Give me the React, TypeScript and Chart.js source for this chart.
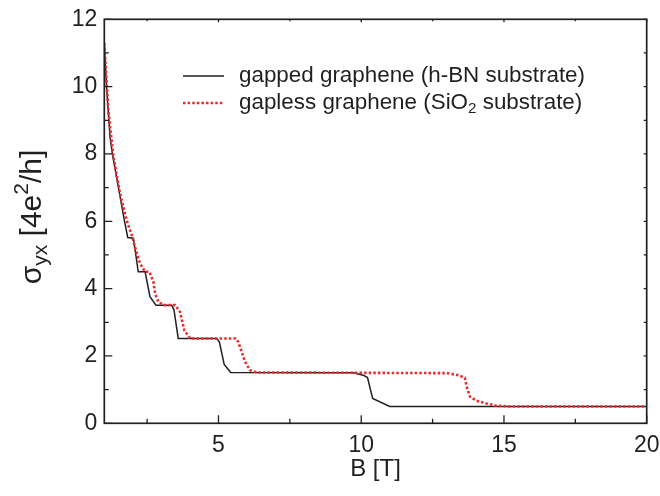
import { useEffect, useRef } from "react";
import { Chart, registerables } from "chart.js";

Chart.register(...registerables);

// ---- data ----
const gappedB = [1.0, 1.04, 1.08, 1.2, 1.28, 1.49, 1.7, 1.82, 2.02, 2.19, 2.43, 2.6, 2.81, 3.36, 3.44, 3.59, 4.94, 5.03, 5.2, 5.43, 9.72, 10.07, 10.22, 10.4, 11.0, 20];
const gappedSigma = [11.33, 10.6, 10.0, 8.51, 8.02, 7.03, 6.04, 5.52, 5.5, 4.5, 4.5, 3.76, 3.51, 3.51, 3.37, 2.52, 2.52, 2.42, 1.75, 1.51, 1.5, 1.43, 1.36, 0.74, 0.5, 0.5];

const gaplessB = [1.0, 1.14, 1.32, 1.55, 1.78, 1.96, 2.07, 2.25, 2.43, 2.58, 2.72, 2.78, 2.89, 3.07, 3.48, 3.65, 3.73, 3.8, 4.0, 5.6, 5.69, 5.81, 5.93, 6.1, 6.34, 13.0, 13.4, 13.63, 13.71, 13.81, 14.04, 14.39, 14.74, 15.2, 20];
const gaplessSigma = [11.29, 9.3, 7.92, 6.83, 6.04, 5.59, 5.25, 4.75, 4.5, 4.5, 4.2, 3.86, 3.61, 3.51, 3.51, 3.31, 3.02, 2.77, 2.52, 2.52, 2.42, 2.13, 1.83, 1.58, 1.51, 1.49, 1.43, 1.35, 1.04, 0.79, 0.67, 0.59, 0.52, 0.5, 0.5];

const seriesLabels = ["gapped graphene (h-BN substrate)", "gapless graphene (SiO\u2082 substrate)"];

const xMajorTicks = [5, 10, 15, 20];
const xMinorTicks = [2.5, 7.5, 12.5, 17.5];
const yMajorTicks = [0, 2, 4, 6, 8, 10, 12];
const yMinorTicks = [1, 3, 5, 7, 9, 11];

const xTitle = "B [T]";

// ---- styling ----
const FONT = '"Liberation Sans", Arial, Helvetica, sans-serif';
const INK = "#231f20";
const RED = "#ee2a2e";

type Seg = { t: string; s: number; dy: number };

function drawRich(ctx: CanvasRenderingContext2D, segs: Seg[], x: number, y: number, align: "left" | "center") {
  let total = 0;
  const widths = segs.map((g) => {
    ctx.font = `${g.s}px ${FONT}`;
    const w = ctx.measureText(g.t).width;
    total += w;
    return w;
  });
  let cx = align === "center" ? x - total / 2 : x;
  segs.forEach((g, i) => {
    ctx.font = `${g.s}px ${FONT}`;
    ctx.fillText(g.t, cx, y + g.dy);
    cx += widths[i];
  });
}

function richFromLabel(label: string, size: number): Seg[] {
  const segs: Seg[] = [];
  let buf = "";
  for (const ch of label) {
    if (ch === "\u2082") {
      if (buf) segs.push({ t: buf, s: size, dy: 0 });
      buf = "";
      segs.push({ t: "2", s: size * 0.68, dy: size * 0.28 });
    } else buf += ch;
  }
  if (buf) segs.push({ t: buf, s: size, dy: 0 });
  return segs;
}

const decorPlugin = {
  id: "decor",
  afterDraw(chart: any) {
    const { ctx, chartArea: a, scales } = chart;
    const xs = scales.x;
    const ys = scales.y;
    ctx.save();
    // frame
    ctx.strokeStyle = INK;
    ctx.lineWidth = 1.7;
    ctx.strokeRect(a.left, a.top, a.right - a.left, a.bottom - a.top);
    // inward ticks
    ctx.lineWidth = 1.3;
    ctx.beginPath();
    const xt = (vals: number[], len: number, top: number) => {
      for (const v of vals) {
        const p = xs.getPixelForValue(v);
        ctx.moveTo(p, a.bottom);
        ctx.lineTo(p, a.bottom - len);
        ctx.moveTo(p, a.top);
        ctx.lineTo(p, a.top + top);
      }
    };
    const yt = (vals: number[], len: number, right: number) => {
      for (const v of vals) {
        const p = ys.getPixelForValue(v);
        ctx.moveTo(a.left, p);
        ctx.lineTo(a.left + len, p);
        ctx.moveTo(a.right, p);
        ctx.lineTo(a.right - right, p);
      }
    };
    xt(xMajorTicks, 8, 3);
    xt(xMinorTicks, 4.5, 2);
    yt(yMajorTicks, 8, 3);
    yt(yMinorTicks, 4.5, 3);
    ctx.stroke();

    // axis titles
    ctx.fillStyle = INK;
    ctx.textBaseline = "middle";
    ctx.font = `24px ${FONT}`;
    ctx.textAlign = "center";
    ctx.fillText(xTitle, (a.left + a.right) / 2, 469);

    ctx.textAlign = "left";
    ctx.save();
    ctx.translate(33, 217);
    ctx.rotate(-Math.PI / 2);
    drawRich(
      ctx,
      [
        { t: "\u03c3", s: 30, dy: 0 },
        { t: "yx", s: 21, dy: 8 },
        { t: " [4e", s: 30, dy: 0 },
        { t: "2", s: 21, dy: -11 },
        { t: "/h]", s: 30, dy: 0 },
      ],
      0,
      0,
      "center"
    );
    ctx.restore();

    // legend
    const ds = chart.data.datasets;
    const rows = [76, 103];
    ds.forEach((d: any, i: number) => {
      const y = rows[i];
      ctx.save();
      ctx.strokeStyle = d.borderColor;
      ctx.lineWidth = d.borderWidth;
      ctx.setLineDash(d.borderDash || []);
      ctx.beginPath();
      ctx.moveTo(183, y);
      ctx.lineTo(224, y);
      ctx.stroke();
      ctx.restore();
      ctx.fillStyle = INK;
      ctx.textBaseline = "middle";
      drawRich(ctx, richFromLabel(d.label, 22.4), 239, y, "left");
    });
    ctx.restore();
  },
};

export default function App() {
  const ref = useRef<HTMLCanvasElement | null>(null);

  useEffect(() => {
    document.body.style.margin = "0";
    const canvas = ref.current;
    if (!canvas) return;
    const chart = new Chart(canvas, {
      type: "line",
      data: {
        datasets: [
          {
            label: seriesLabels[0],
            data: gappedB.map((b, i) => ({ x: b, y: gappedSigma[i] })),
            borderColor: INK,
            borderWidth: 1.5,
            pointRadius: 0,
            tension: 0,
            fill: false,
            order: 1,
          },
          {
            label: seriesLabels[1],
            data: gaplessB.map((b, i) => ({ x: b, y: gaplessSigma[i] })),
            borderColor: RED,
            borderWidth: 2.6,
            borderDash: [2.5, 2.1],
            pointRadius: 0,
            tension: 0,
            fill: false,
            order: 0,
          },
        ],
      },
      options: {
        responsive: false,
        animation: false,
        devicePixelRatio: 1,
        layout: { padding: { left: 0, top: 19.3, right: 13.3, bottom: 0 } },
        plugins: { legend: { display: false }, tooltip: { enabled: false } },
        scales: {
          x: {
            type: "linear",
            min: 1,
            max: 20,
            afterBuildTicks: (s: any) => {
              s.ticks = xMajorTicks.map((v) => ({ value: v }));
            },
            afterFit: (s: any) => {
              s.height = 72.7;
              s.paddingLeft = 0;
              s.paddingRight = 0;
            },
            grid: { display: false, drawTicks: false },
            border: { display: false },
            ticks: {
              padding: 9,
              color: INK,
              font: { family: FONT, size: 23 },
              maxRotation: 0,
              autoSkip: false,
              callback: (v: any) => String(v),
            },
          },
          y: {
            type: "linear",
            min: 0,
            max: 12,
            afterBuildTicks: (s: any) => {
              s.ticks = yMajorTicks.map((v) => ({ value: v }));
            },
            afterFit: (s: any) => {
              s.width = 104.3;
              s.paddingTop = 0;
              s.paddingBottom = 0;
            },
            grid: { display: false, drawTicks: false },
            border: { display: false },
            ticks: {
              padding: 7,
              color: INK,
              font: { family: FONT, size: 23 },
              autoSkip: false,
              callback: (v: any) => String(v),
            },
          },
        },
      },
      plugins: [decorPlugin],
    } as any);
    return () => chart.destroy();
  }, []);

  return (
    <div style={{ width: 660, height: 496 }}>
      <canvas ref={ref} width={660} height={496} />
    </div>
  );
}
